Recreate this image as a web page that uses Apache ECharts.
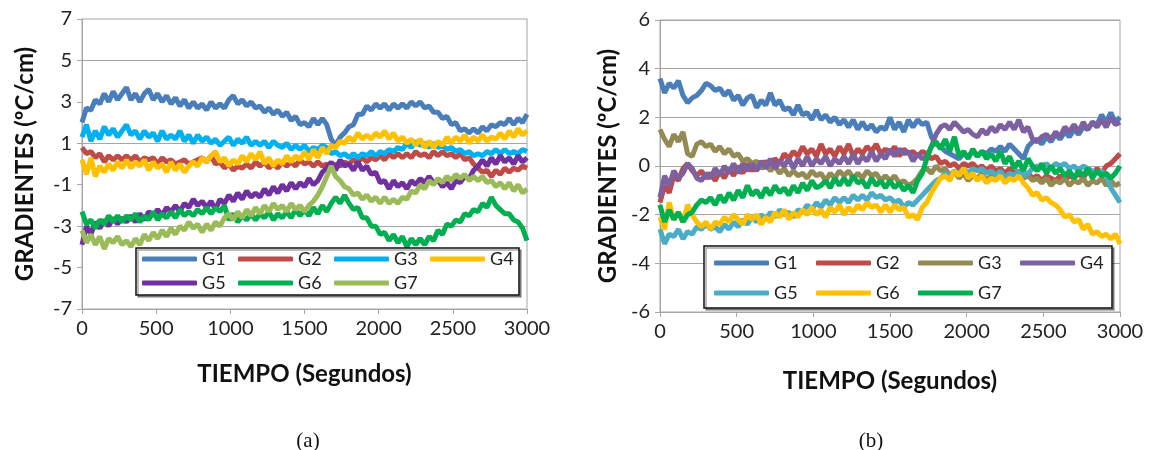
<!DOCTYPE html>
<html>
<head>
<meta charset="utf-8">
<script src="https://cdn.jsdelivr.net/npm/echarts@6/dist/echarts.min.js"></script>
<style>
  html, body { margin: 0; padding: 0; background: #fff; }
  #chart { width: 1152px; height: 450px; }
</style>
</head>
<body>
<div id="chart"></div>
<script>
// sample times (s), one reading every 30 s
const tiempo = Array.from({ length: 101 }, (_, i) => i * 30);
const nombres = ['G1', 'G2', 'G3', 'G4', 'G5', 'G6', 'G7'];

// chart (a)
const g1a = [
  2.0, 2.7, 2.6, 3.1, 2.9, 3.4, 3.0, 3.5, 3.1, 3.4,
  3.7, 3.1, 3.4, 3.0, 3.4, 3.6, 3.1, 3.4, 3.0, 3.3,
  2.9, 3.2, 2.8, 3.1, 2.7, 3.0, 2.7, 2.9, 2.6, 3.0,
  2.7, 2.9, 2.7, 3.1, 3.3, 2.9, 3.1, 2.8, 3.0, 2.7,
  2.8, 2.5, 2.7, 2.4, 2.6, 2.3, 2.5, 2.1, 2.3, 1.9,
  2.0, 1.8, 2.2, 1.9, 2.2, 1.9, 1.2, 0.9, 1.3, 1.5,
  1.8, 1.9, 2.4, 2.4, 2.8, 2.6, 2.9, 2.7, 2.9, 2.6,
  2.9, 2.7, 2.9, 2.7, 3.0, 2.8, 3.0, 2.7, 2.8, 2.5,
  2.5, 2.2, 2.3, 1.9, 2.0, 1.6, 1.7, 1.5, 1.7, 1.5,
  1.8, 1.6, 1.9, 1.8, 2.0, 1.9, 2.2, 1.9, 2.2, 2.0,
  2.4
];
const g2a = [
  0.8, 0.5, 0.6, 0.3, 0.5, 0.1, 0.4, 0.2, 0.4, 0.2,
  0.4, 0.2, 0.4, 0.1, 0.3, 0.2, 0.3, 0.0, 0.3, 0.1,
  0.2, 0.0, 0.1, 0.2, 0.0, 0.1, 0.2, 0.3, 0.1, 0.4,
  0.0, 0.1, -0.2, 0.0, -0.3, -0.1, -0.2, 0.0, -0.2, 0.1,
  -0.1, 0.1, -0.2, 0.0, -0.2, 0.1, -0.1, 0.1, -0.1, 0.2,
  0.0, 0.1, -0.1, 0.1, -0.1, 0.0, -0.2, 0.0, -0.1, 0.1,
  0.0, 0.2, 0.1, 0.3, 0.1, 0.3, 0.2, 0.4, 0.2, 0.5,
  0.3, 0.5, 0.3, 0.5, 0.3, 0.6, 0.4, 0.5, 0.3, 0.6,
  0.4, 0.6, 0.4, 0.5, 0.3, 0.5, 0.2, 0.3, 0.0, -0.2,
  -0.4, -0.3, -0.6, -0.3, -0.5, -0.2, -0.4, -0.2, -0.3, -0.1,
  -0.2
];
const g3a = [
  1.3, 1.9, 1.1, 1.6, 1.2, 1.8, 1.4, 1.7, 1.3, 1.6,
  1.9, 1.4, 1.6, 1.2, 1.6, 1.3, 1.5, 1.1, 1.6, 1.2,
  1.4, 1.2, 1.6, 1.1, 1.4, 1.0, 1.4, 1.1, 1.3, 1.0,
  1.2, 0.9, 1.1, 1.3, 0.9, 1.2, 1.0, 1.3, 0.9, 1.1,
  0.9, 1.1, 0.8, 1.1, 0.9, 0.8, 1.0, 0.7, 0.9, 0.7,
  0.9, 0.6, 0.8, 0.7, 0.9, 0.8, 0.5, 0.6, 0.4, 0.5,
  0.3, 0.5, 0.3, 0.5, 0.4, 0.6, 0.4, 0.6, 0.5, 0.7,
  0.6, 0.8, 0.7, 1.0, 0.8, 1.1, 0.9, 1.0, 0.8, 1.0,
  0.8, 0.9, 0.7, 0.8, 0.6, 0.7, 0.5, 0.6, 0.4, 0.5,
  0.4, 0.6, 0.5, 0.7, 0.5, 0.7, 0.5, 0.6, 0.5, 0.7,
  0.6
];
const g4a = [
  0.2, -0.5, 0.3, -0.6, -0.1, -0.4, 0.0, -0.3, 0.1, -0.2,
  0.2, -0.2, 0.1, -0.1, 0.2, -0.3, 0.1, -0.2, 0.0, -0.4,
  0.1, -0.3, 0.0, -0.4, -0.1, 0.1, -0.1, 0.3, 0.1, 0.4,
  0.6, 0.1, 0.3, -0.1, 0.2, 0.0, 0.4, 0.1, 0.5, 0.2,
  0.6, 0.0, 0.3, -0.1, 0.2, 0.0, 0.4, 0.1, 0.4, 0.2,
  0.6, 0.2, 0.7, 0.3, 0.8, 0.5, 0.9, 0.8, 1.1, 1.0,
  1.3, 1.1, 1.5, 1.2, 1.4, 1.2, 1.5, 1.3, 1.6, 1.2,
  1.5, 1.1, 1.3, 1.0, 1.2, 0.9, 1.2, 0.8, 1.1, 0.8,
  1.1, 0.9, 1.3, 1.0, 1.3, 1.1, 1.4, 1.0, 1.3, 1.1,
  1.4, 1.1, 1.3, 1.2, 1.5, 1.2, 1.6, 1.3, 1.7, 1.4,
  1.6
];
const g5a = [
  -3.9, -3.0, -3.4, -2.8, -3.1, -2.7, -3.0, -2.6, -2.9, -2.6,
  -2.8, -2.5, -2.8, -2.4, -2.7, -2.3, -2.5, -2.2, -2.5, -2.1,
  -2.3, -2.0, -2.3, -1.9, -2.1, -1.7, -2.0, -1.8, -2.1, -1.8,
  -2.2, -1.7, -1.9, -1.5, -1.8, -1.4, -1.7, -1.3, -1.6, -1.4,
  -1.6, -1.2, -1.5, -1.1, -1.4, -1.0, -1.3, -0.9, -1.2, -0.9,
  -1.1, -0.7, -1.0, -0.8, -0.4, -0.2, 0.1, -0.3, 0.2, -0.1,
  0.0, -0.3, 0.1, -0.3, -0.1, -0.5, -0.4, -0.9, -0.8, -1.2,
  -0.8, -1.1, -0.9, -1.2, -0.8, -1.0, -0.7, -0.9, -0.6, -0.9,
  -0.8, -1.1, -0.9, -1.2, -0.8, -0.9, -0.6, -0.7, -0.3, -0.1,
  0.2, -0.1, 0.3, 0.0, 0.4, 0.1, 0.3, 0.0, 0.4, 0.1,
  0.3
];
const g6a = [
  -2.3, -2.9, -2.7, -3.1, -2.7, -2.9, -2.5, -2.8, -2.5, -2.8,
  -2.5, -2.7, -2.4, -2.8, -2.5, -2.7, -2.3, -2.7, -2.4, -2.6,
  -2.3, -2.6, -2.2, -2.5, -2.3, -2.5, -2.2, -2.4, -2.1, -2.4,
  -2.1, -2.3, -2.0, -2.7, -2.4, -2.8, -2.5, -2.7, -2.4, -2.7,
  -2.4, -2.6, -2.3, -2.7, -2.4, -2.6, -2.3, -2.6, -2.2, -2.5,
  -2.2, -2.5, -2.1, -2.4, -2.0, -2.3, -1.9, -1.6, -1.9, -1.5,
  -1.9, -2.2, -2.1, -2.6, -2.6, -3.0, -3.0, -3.4, -3.3, -3.7,
  -3.4, -3.8, -3.5, -4.0, -3.6, -3.9, -3.6, -3.9, -3.5, -3.7,
  -3.2, -3.4, -2.9, -3.0, -2.7, -2.8, -2.4, -2.5, -2.2, -2.3,
  -1.9, -2.1, -1.6, -2.0, -2.2, -2.4, -2.4, -2.7, -2.8, -3.1,
  -3.7
];
const g7a = [
  -3.2, -3.8, -3.4, -3.9, -3.5, -4.1, -3.6, -3.8, -3.5, -3.9,
  -3.7, -4.0, -3.6, -3.9, -3.4, -3.7, -3.3, -3.6, -3.2, -3.5,
  -3.1, -3.4, -3.0, -3.2, -2.8, -3.1, -2.9, -3.3, -2.9, -3.2,
  -2.8, -3.0, -2.6, -2.4, -2.7, -2.3, -2.6, -2.2, -2.5, -2.1,
  -2.4, -2.0, -2.3, -1.9, -2.2, -2.0, -2.3, -1.9, -2.2, -2.0,
  -2.3, -2.0, -1.8, -1.5, -1.1, -0.6, -0.1, -0.6, -0.8, -1.1,
  -1.2, -1.5, -1.4, -1.7, -1.5, -1.8, -1.6, -1.9, -1.6, -1.9,
  -1.7, -1.9, -1.6, -1.7, -1.3, -1.4, -1.0, -1.2, -0.8, -1.0,
  -0.7, -0.9, -0.6, -0.8, -0.5, -0.7, -0.5, -0.8, -0.6, -0.8,
  -0.6, -0.9, -0.8, -1.1, -0.9, -1.2, -0.9, -1.3, -1.0, -1.4,
  -1.2
];

// chart (b)
const g1b = [
  3.6, 3.0, 3.4, 3.2, 3.5, 2.9, 2.6, 2.8, 2.9, 3.1,
  3.4, 3.3, 3.1, 3.2, 2.9, 3.1, 2.7, 2.9, 2.5, 2.8,
  2.9, 2.4, 2.7, 2.5, 3.0, 2.5, 2.7, 2.3, 2.4, 2.1,
  2.5, 2.1, 2.2, 1.9, 2.3, 1.9, 2.1, 1.8, 2.0, 1.7,
  1.9, 1.6, 1.9, 1.5, 1.8, 1.5, 1.7, 1.4, 1.6, 1.5,
  2.0, 1.5, 1.8, 1.4, 1.9, 1.6, 1.9, 1.7, 1.8, 1.2,
  0.9, 0.8, 0.6, 0.5, 0.4, 0.3, 0.5, 0.4, 0.6, 0.4,
  0.6, 0.5, 0.7, 0.6, 0.8, 0.6, 0.9, 0.7, 0.5, 0.3,
  0.8, 1.0, 1.1, 0.9, 1.2, 1.0, 1.3, 1.1, 1.4, 1.2,
  1.5, 1.3, 1.6, 1.5, 1.8, 1.7, 2.1, 1.8, 2.2, 1.8,
  2.0
];
const g2b = [
  -1.5, -0.8, -1.1, -0.4, -0.6, -0.1, 0.1, -0.2, -0.4, -0.2,
  -0.5, -0.3, -0.6, -0.2, -0.5, -0.1, -0.4, 0.0, -0.3, 0.1,
  -0.2, 0.1, -0.1, 0.2, 0.0, 0.3, 0.1, 0.5, 0.3, 0.6,
  0.4, 0.8, 0.5, 0.7, 0.4, 0.9, 0.5, 0.7, 0.4, 0.8,
  0.5, 0.9, 0.4, 0.7, 0.5, 0.8, 0.6, 0.9, 0.5, 0.7,
  0.5, 0.8, 0.4, 0.7, 0.5, 0.6, 0.4, 0.6, 0.5, 0.3,
  0.4, 0.1, 0.2, 0.0, 0.1, -0.1, 0.1, 0.0, 0.1, -0.1,
  0.0, -0.2, 0.0, -0.2, -0.1, -0.3, -0.1, -0.3, -0.2, -0.4,
  -0.3, -0.5, -0.4, -0.6, -0.4, -0.5, -0.6, -0.4, -0.6, -0.4,
  -0.5, -0.3, -0.5, -0.2, -0.4, -0.1, -0.3, 0.0, 0.1, 0.3,
  0.5
];
const g3b = [
  1.5, 1.1, 0.8, 1.3, 1.0, 1.4, 0.5, 0.4, 0.9, 1.0,
  0.8, 0.9, 0.6, 0.8, 0.5, 0.7, 0.4, 0.5, 0.2, 0.3,
  0.1, 0.2, -0.1, 0.1, -0.2, 0.0, -0.3, -0.1, -0.4, -0.2,
  -0.4, -0.3, -0.5, -0.2, -0.4, -0.3, -0.6, -0.3, -0.5, -0.2,
  -0.4, -0.2, -0.5, -0.3, -0.5, -0.2, -0.4, -0.3, -0.6, -0.4,
  -0.6, -0.4, -0.7, -0.6, -0.8, -0.7, -0.5, -0.2, -0.1, -0.3,
  0.0, -0.2, -0.1, -0.4, -0.2, -0.5, -0.3, -0.6, -0.4, -0.5,
  -0.3, -0.6, -0.4, -0.5, -0.3, -0.6, -0.4, -0.5, -0.3, -0.5,
  -0.4, -0.6, -0.5, -0.7, -0.5, -0.8, -0.6, -0.7, -0.5, -0.8,
  -0.6, -0.7, -0.5, -0.8, -0.6, -0.7, -0.5, -0.8, -0.6, -0.8,
  -0.7
];
const g4b = [
  -1.3, -0.4, -0.8, -0.2, -0.5, -0.3, 0.1, -0.1, -0.5, -0.6,
  -0.3, -0.5, -0.1, -0.4, 0.0, -0.3, 0.1, -0.3, 0.1, -0.2,
  0.1, -0.2, 0.2, -0.1, 0.3, -0.1, 0.2, 0.0, 0.3, -0.1,
  0.3, 0.0, 0.4, 0.0, 0.3, 0.1, 0.4, 0.0, 0.3, 0.1,
  0.4, 0.1, 0.5, 0.1, 0.4, 0.2, 0.6, 0.2, 0.5, 0.3,
  0.7, 0.4, 0.7, 0.5, 0.6, 0.2, 0.5, 0.3, 0.4, 0.8,
  1.3, 1.6, 1.7, 1.5, 1.8, 1.6, 1.4, 1.5, 1.3, 1.2,
  1.5, 1.3, 1.6, 1.4, 1.7, 1.5, 1.8, 1.5, 1.9, 1.4,
  1.6, 1.1, 1.0, 1.2, 1.3, 1.1, 1.4, 1.2, 1.6, 1.4,
  1.7, 1.4, 1.8, 1.5, 1.8, 1.6, 1.9, 1.6, 2.0, 1.7,
  1.8
];
const g5b = [
  -2.6, -3.2, -2.8, -2.9, -2.6, -3.0, -2.7, -2.8, -2.5, -2.6,
  -2.4, -2.6, -2.5, -2.7, -2.4, -2.6, -2.3, -2.5, -2.2, -2.4,
  -2.1, -2.3, -2.0, -2.2, -1.9, -2.1, -1.8, -2.0, -1.9, -2.1,
  -1.8, -1.9, -1.6, -1.8, -1.5, -1.7, -1.4, -1.6, -1.3, -1.5,
  -1.3, -1.5, -1.2, -1.4, -1.2, -1.4, -1.1, -1.3, -1.2, -1.4,
  -1.3, -1.5, -1.4, -1.7, -1.5, -1.6, -1.4, -1.2, -1.0, -0.8,
  -0.6, -0.5, -0.3, -0.4, -0.2, -0.3, -0.1, -0.3, -0.1, -0.2,
  -0.1, -0.3, -0.2, -0.4, -0.2, -0.5, -0.3, -0.4, -0.2, -0.4,
  -0.3, -0.1, 0.0, -0.1, 0.1, -0.1, 0.1, 0.0, 0.1, -0.1,
  0.0, -0.2, 0.0, -0.1, -0.2, -0.3, -0.2, -0.4, -0.9, -1.2,
  -1.5
];
const g6b = [
  -2.1, -2.6, -1.5, -2.2, -1.9, -2.3, -1.6, -2.0, -2.3, -2.5,
  -2.3, -2.6, -2.3, -2.4, -2.1, -2.3, -2.0, -2.2, -2.4, -2.0,
  -2.2, -2.0, -2.4, -2.1, -2.3, -1.9, -2.1, -1.8, -2.2, -1.9,
  -2.1, -1.8, -2.0, -1.7, -2.0, -1.8, -2.1, -1.7, -1.9, -1.6,
  -2.0, -1.7, -1.9, -1.6, -1.8, -1.5, -1.7, -1.6, -1.9, -1.6,
  -1.9, -1.6, -1.8, -1.7, -2.1, -2.0, -2.2, -1.7, -1.5, -1.1,
  -0.8, -0.5, -0.4, -0.6, -0.2, -0.4, -0.1, -0.5, -0.3, -0.6,
  -0.4, -0.7, -0.5, -0.6, -0.4, -0.7, -0.5, -0.6, -0.4, -0.7,
  -0.9, -1.2, -1.1, -1.4, -1.3, -1.5, -1.6, -1.8, -2.1, -2.0,
  -2.3, -2.2, -2.6, -2.4, -2.8, -2.7, -2.9, -2.8, -3.0, -2.8,
  -3.2
];
const g7b = [
  -1.6, -2.3, -1.8, -2.2, -1.9, -2.3, -2.0, -1.9, -1.6, -1.4,
  -1.5, -1.3, -1.6, -1.2, -1.5, -1.1, -1.4, -1.0, -1.3, -0.8,
  -1.2, -1.0, -1.3, -0.9, -1.2, -0.8, -1.1, -0.9, -1.2, -0.8,
  -1.1, -0.7, -1.0, -0.6, -0.9, -0.8, -0.6, -0.9, -0.5, -0.8,
  -0.5, -0.8, -0.4, -0.7, -0.6, -0.9, -0.5, -0.8, -0.6, -0.9,
  -0.6, -0.9, -0.7, -1.0, -0.8, -1.1, -0.6, -0.3, 0.3, 0.8,
  1.0, 0.7, 1.1, 0.6, 1.2, 0.4, 0.6, 0.3, 0.7, 0.4,
  0.6, 0.3, 0.5, 0.2, 0.6, 0.1, 0.4, -0.1, 0.2, -0.2,
  0.3, 0.0, -0.2, 0.1, -0.3, 0.0, -0.3, -0.1, -0.4, -0.2,
  -0.5, -0.2, -0.4, -0.1, -0.5, -0.2, -0.4, -0.3, -0.5, -0.3,
  0.0
];

const seriesA = [g1a, g2a, g3a, g4a, g5a, g6a, g7a];
const seriesB = [g1b, g2b, g3b, g4b, g5b, g6b, g7b];
const coloresA = ['#4a7ebb', '#be4b48', '#00b0f0', '#ffc000', '#7030a0', '#00b050', '#9bbb59'];
const coloresB = ['#4a7ebb', '#be4b48', '#948a54', '#7d60a0', '#4bacc6', '#ffc000', '#00b050'];

const ticksA = [-7, -5, -3, -1, 1, 3, 5, 7];

var myChart = echarts.init(document.getElementById('chart'));

const FONT = 'Lato';
const gridGray = '#a6a6a6';

function xAxisFor(gridIndex, nameGap) {
  return {
    gridIndex: gridIndex,
    type: 'value',
    min: 0, max: 3000, interval: 500,
    name: 'TIEMPO (Segundos)',
    nameLocation: 'middle',
    nameGap: nameGap,
    nameTextStyle: { fontFamily: FONT, fontSize: 24, fontWeight: 'bold', color: '#111' },
    axisLine: { show: true, onZero: false, lineStyle: { color: gridGray, width: 1 } },
    axisTick: { show: true, length: 5, lineStyle: { color: gridGray } },
    axisLabel: { fontFamily: FONT, fontSize: 20, color: '#222', margin: 10, formatter: v => String(v) },
    splitLine: { show: false }
  };
}

function yName(nameGap) {
  return {
    name: 'GRADIENTES (ºC/cm)',
    nameLocation: 'middle',
    nameGap: nameGap,
    nameTextStyle: { fontFamily: FONT, fontSize: 24, fontWeight: 'bold', color: '#111' }
  };
}

const seriesList = [];
seriesA.forEach((vals, k) => {
  seriesList.push({
    name: nombres[k], type: 'line', xAxisIndex: 0, yAxisIndex: 0,
    data: tiempo.map((t, i) => [t, vals[i]]),
    showSymbol: false, symbol: 'none',
    lineStyle: { width: 5, color: coloresA[k] },
    itemStyle: { color: coloresA[k] }
  });
});
seriesB.forEach((vals, k) => {
  seriesList.push({
    name: nombres[k] + ' ', type: 'line', xAxisIndex: 1, yAxisIndex: 1,
    data: tiempo.map((t, i) => [t, vals[i]]),
    showSymbol: false, symbol: 'none',
    lineStyle: { width: 5, color: coloresB[k] },
    itemStyle: { color: coloresB[k] }
  });
});

function legendRow(names, left, top, gap) {
  return {
    data: names,
    left: left, top: top,
    orient: 'horizontal',
    padding: 0,
    itemGap: gap,
    itemWidth: 55, itemHeight: 5,
    icon: 'roundRect',
    selectedMode: false,
    z: 6,
    textStyle: { fontFamily: FONT, fontSize: 18, color: '#222', width: 24, lineHeight: 18 },
    formatter: n => n.trim()
  };
}

var option = {
  animation: false,
  backgroundColor: '#fff',
  textStyle: { fontFamily: FONT },
  title: [
    { text: '(a)', left: 303, top: 426, textAlign: 'center',
      textStyle: { fontFamily: 'Liberation Serif', fontSize: 21, fontWeight: 'normal', color: '#111' } },
    { text: '(b)', left: 866, top: 426, textAlign: 'center',
      textStyle: { fontFamily: 'Liberation Serif', fontSize: 21, fontWeight: 'normal', color: '#111' } }
  ],
  grid: [
    { left: 82, top: 19, width: 445, height: 290, show: true, borderColor: gridGray, borderWidth: 1, backgroundColor: 'transparent' },
    { left: 660, top: 20, width: 460, height: 292, show: true, borderColor: gridGray, borderWidth: 1, backgroundColor: 'transparent' }
  ],
  xAxis: [xAxisFor(0, 53), xAxisFor(1, 57)],
  yAxis: [
    Object.assign({
      gridIndex: 0, type: 'value', min: -7, max: 7, interval: 1,
      axisLine: { show: true, lineStyle: { color: gridGray } },
      axisTick: { show: true, length: 5, customValues: ticksA, lineStyle: { color: gridGray } },
      axisLabel: { fontFamily: FONT, fontSize: 20, color: '#222', margin: 10, customValues: ticksA,
        formatter: v => (Math.abs(v) % 2 === 1 ? String(v) : '') },
      splitLine: { show: true, lineStyle: { color: [gridGray, 'rgba(0,0,0,0)'], width: 1 } }
    }, yName(45)),
    Object.assign({
      gridIndex: 1, type: 'value', min: -6, max: 6, interval: 2,
      axisLine: { show: true, lineStyle: { color: gridGray } },
      axisTick: { show: true, length: 5, lineStyle: { color: gridGray } },
      axisLabel: { fontFamily: FONT, fontSize: 20, color: '#222', margin: 10 },
      splitLine: { show: true, lineStyle: { color: gridGray, width: 1 } }
    }, yName(40))
  ],
  legend: [
    legendRow(['G1', 'G2', 'G3', 'G4'], 142, 250, 12),
    legendRow(['G5', 'G6', 'G7'], 142, 274, 12),
    legendRow(['G1 ', 'G2 ', 'G3 ', 'G4 '], 714, 254, 18),
    legendRow(['G5 ', 'G6 ', 'G7 '], 714, 284, 18)
  ],
  graphic: [
    { type: 'rect', z: 5, shape: { x: 136, y: 248, width: 383, height: 47 },
      style: { fill: '#fff', stroke: '#111', lineWidth: 1.5, shadowColor: 'rgba(0,0,0,0.35)', shadowOffsetX: 2, shadowOffsetY: 2 } },
    { type: 'rect', z: 5, shape: { x: 704, y: 246, width: 408, height: 62 },
      style: { fill: '#fff', stroke: '#111', lineWidth: 1.5, shadowColor: 'rgba(0,0,0,0.35)', shadowOffsetX: 2, shadowOffsetY: 2 } }
  ],
  series: seriesList
};

myChart.setOption(option);
</script>
</body>
</html>
